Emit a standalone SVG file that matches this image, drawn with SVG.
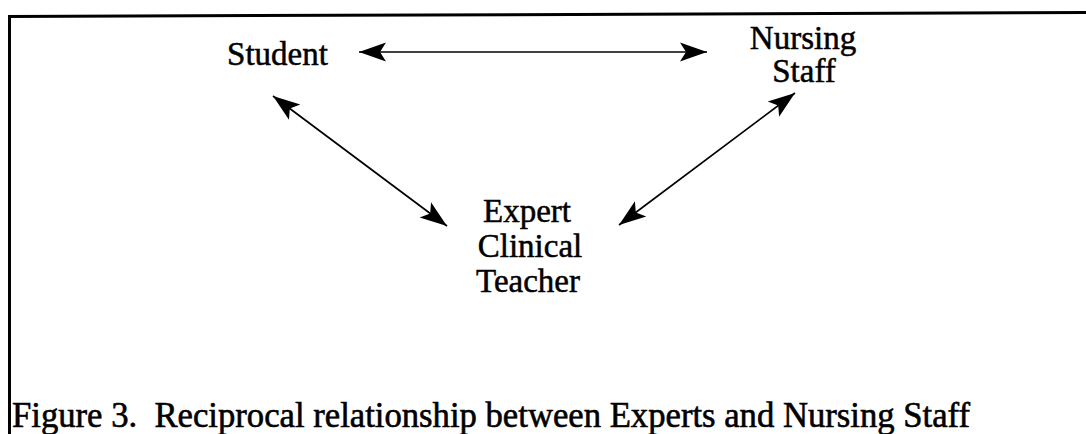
<svg xmlns="http://www.w3.org/2000/svg" width="1086" height="434" viewBox="0 0 1086 434">
  <style>
    .label { font-family: "Liberation Serif", "Times New Roman", serif; font-size: 33px; fill: #000; stroke: #000; stroke-width: 0.5; text-anchor: middle; }
    .caption { font-family: "Liberation Serif", "Times New Roman", serif; font-size: 35px; fill: #000; stroke: #000; stroke-width: 0.6; }
    .frame { stroke: #000; stroke-width: 3; fill: none; }
    .link { stroke: #000; stroke-width: 1.7; fill: none; marker-start: url(#head); marker-end: url(#head); }
  </style>
  <defs>
    <!-- barbed arrowhead, tip at the line end -->
    <marker id="head" markerUnits="userSpaceOnUse" markerWidth="30" markerHeight="22" viewBox="0 -11 30 22" refX="27" refY="0" orient="auto-start-reverse">
      <path d="M27,0 L0,-9.5 L6,0 L0,9.5 Z" fill="#000"/>
    </marker>
  </defs>

  <rect width="1086" height="434" fill="#fff"/>

  <!-- open frame: top rule and left rule -->
  <g id="frame">
    <line class="frame" x1="8" y1="16.5" x2="1086" y2="12.5"/>
    <line class="frame" x1="9.5" y1="15" x2="9.5" y2="434"/>
  </g>

  <g id="connectors">
    <line class="link" x1="359" y1="52" x2="707" y2="52"/>
    <line class="link" x1="273" y1="96" x2="447" y2="226"/>
    <line class="link" x1="619" y1="225" x2="795" y2="93"/>
  </g>

  <g id="student">
    <text class="label" x="277.5" y="65">Student</text>
  </g>

  <g id="nursing-staff">
    <text class="label" x="803" y="49">Nursing</text>
    <text class="label" x="804" y="82">Staff</text>
  </g>

  <g id="expert-clinical-teacher">
    <text class="label" x="527" y="222">Expert</text>
    <text class="label" x="530" y="257">Clinical</text>
    <text class="label" x="528" y="292">Teacher</text>
  </g>

  <g id="caption">
    <text class="caption" x="12" y="427" textLength="958" lengthAdjust="spacingAndGlyphs" xml:space="preserve">Figure 3.  Reciprocal relationship between Experts and Nursing Staff</text>
  </g>
</svg>
